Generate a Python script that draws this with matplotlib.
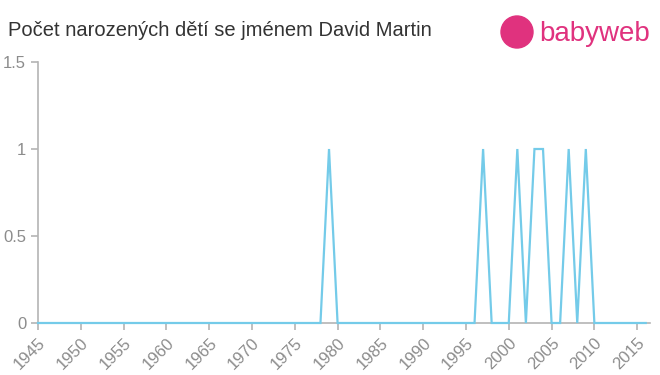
import numpy as np
import matplotlib
matplotlib.use('Agg')
from matplotlib import pyplot as plt
from matplotlib.patches import Circle

# data
years = list(range(1945, 2017))
peak_years = [1979, 1997, 2001, 2003, 2004, 2007, 2009]
peak_counts = [1, 1, 1, 1, 1, 1, 1]
counts = [0] * len(years)
for y, c in zip(peak_years, peak_counts):
    counts[years.index(y)] = c

xticks = list(range(1945, 2016, 5))
yticks = [0, 0.5, 1, 1.5]
ytick_labels = ['0', '0.5', '1', '1.5']

title = 'Počet narozených dětí se jménem David Martin'
line_col = '#74cbe9'
grey = '#8c8c8c'
pink = '#e0327e'

plt.rcParams['font.family'] = ['Liberation Sans', 'DejaVu Sans']

fig = plt.figure(figsize=(6.6, 3.75), dpi=100)
ax = fig.add_axes([38/660, 52/375, 612/660, 261/375])
ax.plot(years, counts, color=line_col, lw=1.6, solid_joinstyle='miter', clip_on=False, zorder=3)
ax.set_xlim(1945, 2016.5)
ax.set_ylim(0, 1.5)
ax.set_xticks(xticks)
ax.set_xticklabels([str(x) for x in xticks], rotation=45, ha='right', rotation_mode='anchor')
ax.set_yticks(yticks)
ax.set_yticklabels(ytick_labels)
for s in ['top', 'right']:
    ax.spines[s].set_visible(False)
for s in ['left', 'bottom']:
    ax.spines[s].set_color('#b4b4b4')
    ax.spines[s].set_linewidth(1.2)
ax.tick_params(colors='#b4b4b4', labelcolor=grey, labelsize=12, length=5, width=1.2)

fig.text(8/660, 1 - 30/375, title, fontsize=14.5, color='#333333', va='center', ha='left')

# logo
fig.patches.append(Circle((517, 375 - 32), 16, transform=None, color=pink))
fig.text(539/660, 1 - 34/375, 'babyweb', fontsize=20, color=pink, va='center', ha='left')

fig.savefig('out.png', dpi=100, facecolor='white')
